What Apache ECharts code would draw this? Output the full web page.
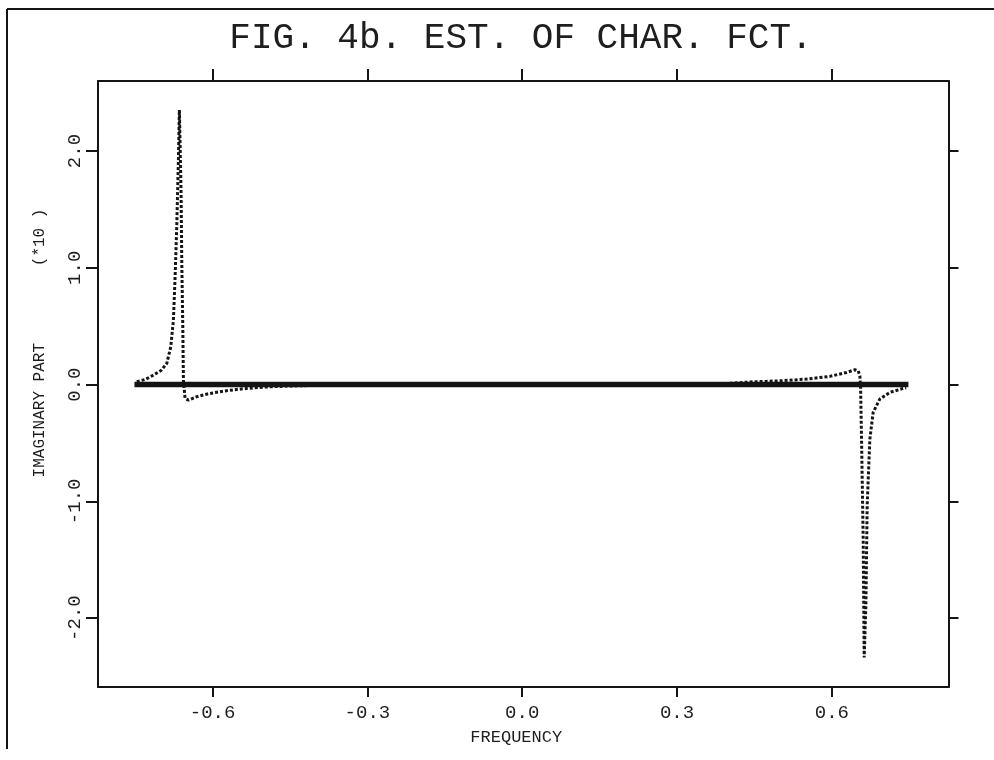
<!DOCTYPE html>
<html>
<head>
<meta charset="utf-8">
<title>FIG. 4b. EST. OF CHAR. FCT.</title>
<script src="https://cdn.jsdelivr.net/npm/echarts@6/dist/echarts.min.js"></script>
<style>
  html, body { margin: 0; padding: 0; background: #fff; }
  #chart { width: 994px; height: 760px; }
</style>
</head>
<body>
<div id="chart"></div>
<script>
// Estimated imaginary part of the characteristic function (dotted curve)
const estFreq = [
  -0.7468, -0.7300, -0.7147, -0.7000, -0.6887, -0.6810, -0.6759, -0.6726,
  -0.6694, -0.6662, -0.6643, -0.6610, -0.6597, -0.6577, -0.6565, -0.6533,
  -0.6468, -0.6306, -0.6100, -0.5855, -0.5600, -0.5338, -0.4950, -0.4563,
  -0.4000, -0.3000, -0.1500, 0.0000, 0.1500, 0.3000, 0.4000, 0.4476,
  0.5000, 0.5510, 0.5960, 0.6285, 0.6446, 0.6510, 0.6542, 0.6556,
  0.6575, 0.6607, 0.6626, 0.6659, 0.6684, 0.6736, 0.6800, 0.6929,
  0.7123, 0.7381, 0.7440
];
const estImag = [
  0.024, 0.045, 0.081, 0.120, 0.182, 0.324, 0.552, 0.923,
  1.352, 1.923, 2.351, 1.638, 1.066, 0.495, 0.039, -0.118,
  -0.133, -0.104, -0.080, -0.061, -0.045, -0.033, -0.020, -0.013,
  -0.007, -0.003, -0.001, 0.000, 0.001, 0.003, 0.010, 0.024,
  0.032, 0.047, 0.070, 0.104, 0.127, 0.118, 0.075, -0.010,
  -0.467, -1.323, -2.337, -1.895, -1.038, -0.467, -0.238, -0.124,
  -0.067, -0.033, -0.028
];

// True imaginary part (solid heavy line)
const trueFreq = [-0.746, 0.743];
const trueImag = [0.0, 0.0];

// Tick positions and labels
const xTicks = [-0.6, -0.3, 0.0, 0.3, 0.6];
const yTicks = [-2.0, -1.0, 0.0, 1.0, 2.0];

const FONT = '"Liberation Mono", "DejaVu Sans Mono", monospace';
const INK = '#141414';
const TEXT_INK = '#1e1e1e';

const estPairs = estFreq.map((f, i) => [f, estImag[i]]);
const truePairs = trueFreq.map((f, i) => [f, trueImag[i]]);

const fmt = v => (Math.abs(v) < 1e-9 ? 0 : v).toFixed(1);

const axisLine = { show: true, onZero: false, lineStyle: { color: INK, width: 2 } };

const chart = echarts.init(document.getElementById('chart'), null, { renderer: 'canvas' });

chart.setOption({
  backgroundColor: '#ffffff',
  animation: false,
  grid: {
    left: 98, right: 45.5, top: 81, bottom: 73,
    outerBoundsMode: 'none'
  },
  graphic: [
    { type: 'line', shape: { x1: 7, y1: 9, x2: 994, y2: 9 }, style: { stroke: INK, lineWidth: 2 } },
    { type: 'line', shape: { x1: 7, y1: 9, x2: 7, y2: 749 }, style: { stroke: INK, lineWidth: 2 } },
    {
      type: 'text', x: 521, y: 38,
      style: {
        text: 'FIG. 4b. EST. OF CHAR. FCT.',
        font: '36px ' + FONT, fill: TEXT_INK,
        textAlign: 'center', textVerticalAlign: 'middle'
      }
    }
  ],
  xAxis: [
    {
      type: 'value', position: 'bottom', min: -0.822, max: 0.826,
      name: 'FREQUENCY', nameLocation: 'middle', nameGap: 42,
      nameTextStyle: { fontFamily: FONT, fontSize: 17, color: TEXT_INK, padding: [0, 14, 0, 0] },
      axisLine: axisLine,
      axisTick: { show: true, inside: false, length: 10, customValues: xTicks, lineStyle: { color: INK, width: 2 } },
      axisLabel: { show: true, customValues: xTicks, formatter: fmt, margin: 16, fontFamily: FONT, fontSize: 19, color: TEXT_INK },
      splitLine: { show: false }
    },
    {
      type: 'value', position: 'top', min: -0.822, max: 0.826,
      axisLine: axisLine,
      axisTick: { show: true, inside: false, length: 12, customValues: xTicks, lineStyle: { color: INK, width: 2 } },
      axisLabel: { show: false },
      splitLine: { show: false }
    }
  ],
  yAxis: [
    {
      type: 'value', position: 'left', min: -2.59, max: 2.6,
      name: 'IMAGINARY PART        (*10 )', nameLocation: 'middle', nameGap: 50, nameRotate: 90,
      nameTextStyle: { fontFamily: FONT, fontSize: 16, color: TEXT_INK, padding: [0, 0, 0, 82] },
      axisLine: axisLine,
      axisTick: { show: true, inside: false, length: 12, customValues: yTicks, lineStyle: { color: INK, width: 2 } },
      axisLabel: { show: true, customValues: yTicks, formatter: fmt, rotate: 90, margin: 14, fontFamily: FONT, fontSize: 19, color: TEXT_INK },
      splitLine: { show: false }
    },
    {
      type: 'value', position: 'right', min: -2.59, max: 2.6,
      axisLine: axisLine,
      axisTick: { show: true, inside: false, length: 10, customValues: yTicks, lineStyle: { color: INK, width: 2 } },
      axisLabel: { show: false },
      splitLine: { show: false }
    }
  ],
  series: [
    {
      name: 'estimate', type: 'line', xAxisIndex: 0, yAxisIndex: 0,
      data: estPairs, showSymbol: false, symbol: 'none', smooth: false,
      lineStyle: { color: INK, width: 3, type: [3, 2], cap: 'butt' },
      z: 2
    },
    {
      name: 'true', type: 'line', xAxisIndex: 0, yAxisIndex: 0,
      data: truePairs, showSymbol: false, symbol: 'none',
      lineStyle: { color: INK, width: 5.5, cap: 'square' },
      z: 3
    }
  ]
});
</script>
</body>
</html>
